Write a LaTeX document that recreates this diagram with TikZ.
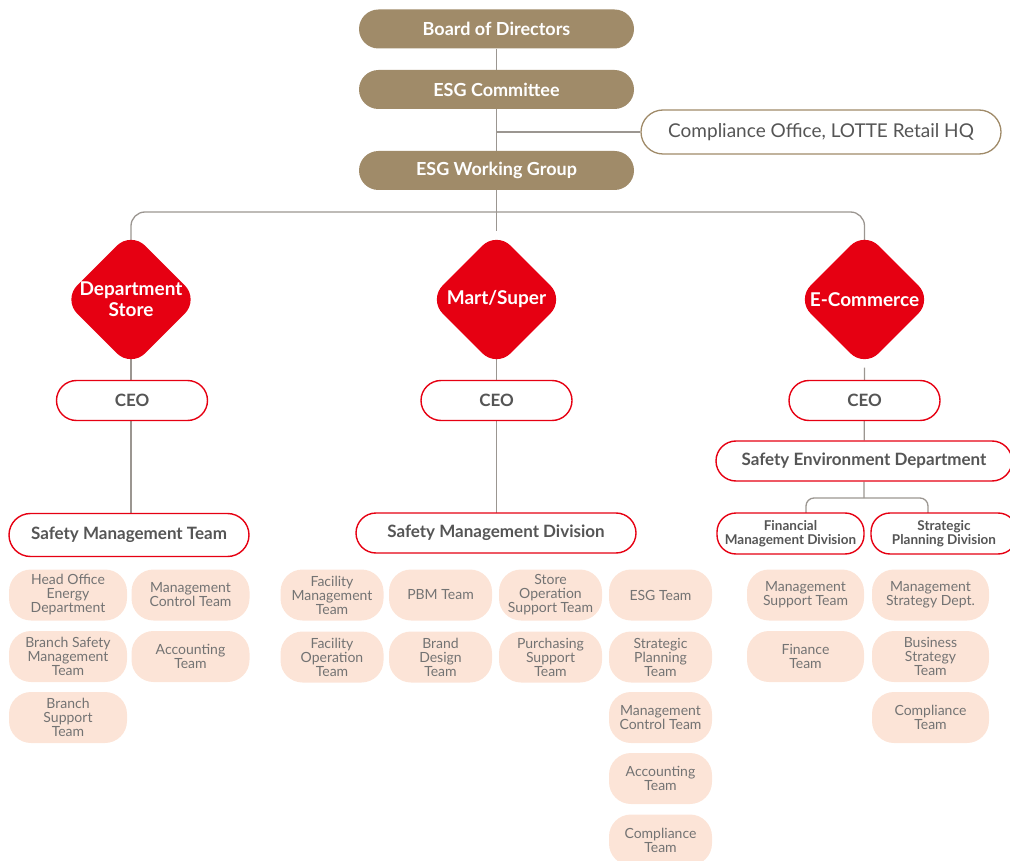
\documentclass[tikz,border=0pt]{standalone}
\usepackage{fontspec}
\setmainfont{Lato}
\usetikzlibrary{shapes.geometric}
\pgfdeclarelayer{background}
\pgfsetlayers{background,main}

\definecolor{hqbrown}{RGB}{160,139,105}
\definecolor{lred}{RGB}{230,0,18}
\definecolor{pinkfill}{RGB}{252,228,215}
\definecolor{darktext}{RGB}{85,85,85}
\definecolor{lighttext}{RGB}{115,115,115}
\definecolor{linegray}{RGB}{155,150,145}

\begin{document}
\begin{tikzpicture}[x=1pt,y=-1pt,
  topbox/.style={rectangle, rounded corners=19.5pt, fill=hqbrown, text=white,
    minimum width=275pt, minimum height=39pt, inner sep=0pt,
    font=\fontsize{18}{20}\selectfont\bfseries},
  hqbox/.style={rectangle, rounded corners=22pt, draw=hqbrown, line width=1.3pt,
    fill=white, text=darktext, minimum width=360pt, minimum height=44pt, inner sep=0pt,
    font=\fontsize{19}{21}\selectfont},
  bizbox/.style={diamond, aspect=1, rounded corners=20pt, fill=lred, text=white,
    minimum width=136pt, minimum height=136pt, inner sep=-8pt, align=center,
    font=\fontsize{19}{21}\selectfont\bfseries},
  redpill/.style={rectangle, rounded corners=20pt, draw=lred, line width=1.4pt,
    fill=white, text=darktext, minimum height=40pt, inner sep=0pt, align=center,
    font=\fontsize{17}{19}\selectfont\bfseries},
  subpill/.style={redpill, rounded corners=19pt, minimum height=41pt,
    font=\fontsize{13.5}{13.5}\selectfont\bfseries},
  team/.style={rectangle, rounded corners=22pt, fill=pinkfill, text=lighttext,
    minimum height=51pt, inner sep=0pt, align=center,
    font=\fontsize{14}{14}\selectfont},
  teamA/.style={team, minimum width=118pt},
  teamB/.style={team, minimum width=103pt},
  conn/.style={draw=linegray, line width=1.3pt}
]
\useasboundingbox (0,0) rectangle (1010,861);

% governance chain
\node[topbox] (bod)  at (496.5,29)  {Board of Directors};
\node[topbox] (esgc) at (496.5,89.5) {ESG Committee};
\node[topbox] (wg)   at (496.5,170.5) {ESG Working Group};
\node[hqbox]  (hq)   at (821,132)   {Compliance Office, LOTTE Retail HQ};

% business units
\node[bizbox] (dept) at (131,299.5)   {Department\\Store};
\node[bizbox] (mart) at (496.5,299.5) {Mart/Super};
\node[bizbox] (ecom) at (864.5,299.5) {E-Commerce};

% CEOs
\node[redpill, minimum width=151pt] (ceoD) at (132,400.5) {CEO};
\node[redpill, minimum width=151pt] (ceoM) at (496.5,400.5) {CEO};
\node[redpill, minimum width=151pt] (ceoE) at (864.5,400.5) {CEO};

% safety units
\node[redpill, minimum width=240pt, minimum height=43pt, rounded corners=21.5pt] (smt) at (129,535) {Safety Management Team};
\node[redpill, minimum width=280pt] (smd) at (496,533) {Safety Management Division};
\node[redpill, minimum width=296pt] (sed) at (864,461) {Safety Environment Department};
\node[subpill, minimum width=147pt] (fmd) at (790.5,533.5) {Financial\\Management Division};
\node[subpill, minimum width=146pt] (spd) at (944,533.5) {Strategic\\Planning Division};

% department store teams
\node[teamA] (d11) at (68,595)    {Head Office\\Energy\\Department};
\node[teamA] (d12) at (68,656.5)  {Branch Safety\\Management\\Team};
\node[teamA] (d13) at (68,717.5)  {Branch\\Support\\Team};
\node[teamA] (d21) at (190.5,595)   {Management\\Control Team};
\node[teamA] (d22) at (190.5,656.5) {Accounting\\Team};

% mart/super teams
\node[teamB] (m11) at (332,595)   {Facility\\Management\\Team};
\node[teamB] (m12) at (332,657)   {Facility\\Operation\\Team};
\node[teamB] (m21) at (440.5,595) {PBM Team};
\node[teamB] (m22) at (440.5,657) {Brand\\Design\\Team};
\node[teamB] (m31) at (550.5,595) {Store\\Operation\\Support Team};
\node[teamB] (m32) at (550.5,657) {Purchasing\\Support\\Team};
\node[teamB] (m41) at (660.5,595)   {ESG Team};
\node[teamB] (m42) at (660.5,657)   {Strategic\\Planning\\Team};
\node[teamB] (m43) at (660.5,717.5) {Management\\Control Team};
\node[teamB] (m44) at (660.5,778.5) {Accounting\\Team};
\node[teamB] (m45) at (660.5,840)   {Compliance\\Team};

% e-commerce teams
\node[teamA, minimum width=117pt] (e11) at (805.5,595)   {Management\\Support Team};
\node[teamA, minimum width=117pt] (e12) at (805.5,656.5) {Finance\\Team};
\node[teamA, minimum width=117pt] (e21) at (930.5,595)   {Management\\Strategy Dept.};
\node[teamA, minimum width=117pt] (e22) at (930.5,656.5) {Business\\Strategy\\Team};
\node[teamA, minimum width=117pt] (e23) at (930.5,717.5) {Compliance\\Team};

% connectors, kept behind the boxes
\coordinate (bar)  at (496.5,212);
\coordinate (sbar) at (864,498);
\coordinate (fmdtop) at (806,513);
\coordinate (spdtop) at (928,513);
\begin{pgfonlayer}{background}
  \draw[conn] (bod) -- (esgc) -- (wg) -- (mart);
  \draw[conn] (esgc.south |- hq.west) -- (hq.west);
  \draw[conn, rounded corners=14pt] (dept.center) |- (bar) -| (ecom.center);
  \draw[conn] (dept.center) -- (dept.center |- smt.center);
  \draw[conn] (mart.center) -- (mart.center |- smd.center);
  \draw[conn] (ecom) -- (ceoE) -- (sed) -- (sbar);
  \draw[conn, rounded corners=8pt] (fmdtop) |- (sbar) -| (spdtop);
\end{pgfonlayer}
\end{tikzpicture}
\end{document}
